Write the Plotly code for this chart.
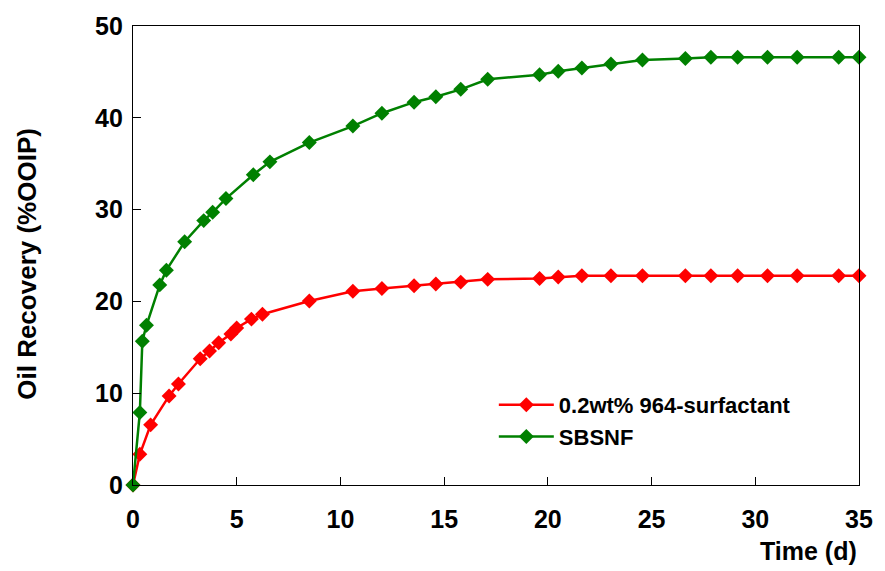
import plotly.graph_objects as go

# Time (days) and cumulative oil recovery (%OOIP) for each imbibition test
time_surf = [0, 0.33, 0.85, 1.74, 2.19, 3.24, 3.69, 4.13, 4.72, 5.0, 5.71, 6.24,
             8.5, 10.6, 12.0, 13.55, 14.6, 15.8, 17.1, 19.6, 20.5, 21.64, 23.04,
             24.56, 26.63, 27.86, 29.15, 30.59, 32.02, 34.02, 35.0]
rec_surf = [0, 3.35, 6.55, 9.7, 11.0, 13.75, 14.6, 15.5, 16.45, 17.1, 18.07, 18.6,
            20.05, 21.1, 21.4, 21.7, 21.9, 22.1, 22.4, 22.5, 22.65, 22.8, 22.8,
            22.8, 22.8, 22.8, 22.8, 22.8, 22.8, 22.8, 22.8]

time_sbsnf = [0, 0.33, 0.45, 0.65, 1.29, 1.61, 2.49, 3.41, 3.84, 4.48, 5.8, 6.6,
              8.5, 10.6, 12.0, 13.55, 14.6, 15.8, 17.1, 19.6, 20.5, 21.64, 23.04,
              24.56, 26.63, 27.86, 29.15, 30.59, 32.02, 34.02, 35.0]
rec_sbsnf = [0, 7.9, 15.66, 17.4, 21.8, 23.4, 26.5, 28.8, 29.7, 31.2, 33.8, 35.2,
             37.3, 39.1, 40.5, 41.7, 42.3, 43.1, 44.2, 44.7, 45.06, 45.43, 45.86,
             46.3, 46.47, 46.6, 46.6, 46.6, 46.6, 46.6, 46.6]

x_ticks = [0, 5, 10, 15, 20, 25, 30, 35]
y_ticks = [0, 10, 20, 30, 40, 50]

FONT = "Liberation Sans, Arial, sans-serif"

fig = go.Figure()
fig.add_trace(go.Scatter(
    x=time_surf, y=rec_surf, mode="lines+markers",
    name="<b>0.2wt% 964-surfactant</b>",
    line=dict(color="#FF0000", width=2.5),
    marker=dict(symbol="diamond", size=11.5, color="#FF0000"),
    cliponaxis=False,
))
fig.add_trace(go.Scatter(
    x=time_sbsnf, y=rec_sbsnf, mode="lines+markers",
    name="<b>SBSNF</b>",
    line=dict(color="#008000", width=2.5),
    marker=dict(symbol="diamond", size=11.5, color="#008000"),
    cliponaxis=False,
))

axis_common = dict(
    showline=True, linecolor="black", linewidth=1.3, mirror=True,
    showgrid=False, zeroline=False,
    ticks="inside", ticklen=8, tickwidth=1.3, tickcolor="black",
    tickfont=dict(family=FONT, size=25, color="black", weight="bold"),
)

fig.update_layout(
    width=885, height=571,
    margin=dict(l=133, r=19, t=22, b=86),
    plot_bgcolor="white", paper_bgcolor="white",
    xaxis=dict(range=[0, 35], tickvals=x_ticks, ticklabelstandoff=12,
               **axis_common),
    yaxis=dict(range=[0, 50], tickvals=y_ticks, ticklabelstandoff=4,
               **axis_common),
    legend=dict(
        x=0.497, y=0.22, xanchor="left", yanchor="top",
        bgcolor="rgba(0,0,0,0)",
        font=dict(family=FONT, size=22, color="black"),
        tracegroupgap=0, itemwidth=55,
    ),
    showlegend=True,
    annotations=[
        dict(
            text="<b>Time (d)</b>", xref="paper", yref="paper",
            x=1.0, y=0, xanchor="right", yanchor="top", yshift=-50,
            showarrow=False, font=dict(family=FONT, size=25, color="black"),
        ),
        dict(
            text="<b>Oil Recovery (%OOIP)</b>", xref="paper", yref="paper",
            x=0, y=0.482, xanchor="center", yanchor="middle", xshift=-106,
            textangle=-90, showarrow=False,
            font=dict(family=FONT, size=26, color="black"),
        ),
    ],
)

fig.write_html("out.html")
